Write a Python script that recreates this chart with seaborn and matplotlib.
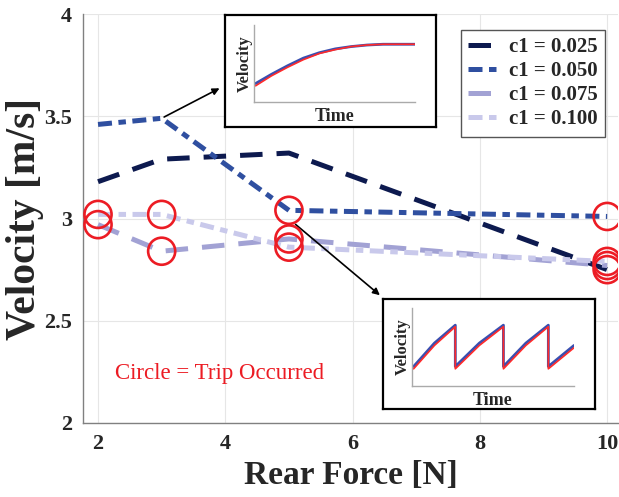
import seaborn as sns
import pandas as pd
import numpy as np
import matplotlib.pyplot as plt
from matplotlib.lines import Line2D

# main data
rear_force = [2, 3, 5, 10]
vel_025 = [3.18, 3.29, 3.32, 2.75]
vel_050 = [3.46, 3.49, 3.04, 3.01]
vel_075 = [2.97, 2.84, 2.90, 2.77]
vel_100 = [3.02, 3.02, 2.86, 2.79]
trip_025 = [0, 0, 0, 1]
trip_050 = [0, 0, 1, 1]
trip_075 = [1, 1, 1, 1]
trip_100 = [1, 1, 1, 1]
labels = ['c1 = 0.025', 'c1 = 0.050', 'c1 = 0.075', 'c1 = 0.100']
colors = ['#0d1a4f', '#2f4fa0', '#a2a2d4', '#c9c9eb']
dash_list = [(4.5, 2.8), (2.8, 1.3, 1.5, 1.3), (4.5, 2.8), (2.8, 1.3, 1.5, 1.3)]

# inset curves (normalised)
rise_t = [0, 1, 2, 3, 4, 5, 6, 7, 8, 9, 10]
rise_blue = [0.24, 0.36, 0.47, 0.57, 0.64, 0.69, 0.72, 0.74, 0.75, 0.75, 0.75]
rise_red = [0.21, 0.34, 0.45, 0.55, 0.63, 0.68, 0.72, 0.74, 0.75, 0.75, 0.75]
saw_t = [0, 0.13, 0.26, 0.26, 0.41, 0.56, 0.56, 0.70, 0.84, 0.84, 1.0]
saw_blue = [0.25, 0.55, 0.78, 0.25, 0.55, 0.78, 0.25, 0.55, 0.78, 0.25, 0.52]
saw_red = [0.22, 0.52, 0.76, 0.22, 0.52, 0.76, 0.22, 0.52, 0.76, 0.22, 0.49]

sns.set_style('white')
plt.rcParams['font.family'] = ['Liberation Serif', 'DejaVu Serif']

vels = [vel_025, vel_050, vel_075, vel_100]
trips = [trip_025, trip_050, trip_075, trip_100]
rows = []
for lab, v, tr in zip(labels, vels, trips):
    for x, y, t in zip(rear_force, v, tr):
        rows.append({'force': x, 'velocity': y, 'c1': lab, 'trip': t})
df = pd.DataFrame(rows)

fig = plt.figure(figsize=(6.19, 4.97), dpi=100)
ax = fig.add_axes([83/619, 74/497, 535/619, 409/497])

sns.lineplot(data=df, x='force', y='velocity', hue='c1', style='c1',
             palette=dict(zip(labels, colors)), dashes=dict(zip(labels, dash_list)),
             lw=3.6, sort=False, legend=False, ax=ax)

tr = df[df.trip == 1]
ax.scatter(tr.force, tr.velocity, s=380, facecolors='none', edgecolors='#ec1c24',
           linewidths=1.9, zorder=5)

ax.set_xlim(1.764, 10.17)
ax.set_ylim(2, 4)
ax.set_xticks([2, 4, 6, 8, 10])
ax.set_yticks([2, 2.5, 3, 3.5, 4])
ax.set_yticklabels(['2', '2.5', '3', '3.5', '4'])
ax.grid(True, color='#e6e6e6', lw=0.8)
for s in ['top', 'right']:
    ax.spines[s].set_visible(False)
for s in ['left', 'bottom']:
    ax.spines[s].set_color('#808080')
    ax.spines[s].set_linewidth(1.0)
ax.tick_params(direction='in', length=4, color='#808080', labelsize=16, pad=8)
for t in ax.get_xticklabels() + ax.get_yticklabels():
    t.set_fontweight('bold')
ax.set_xlabel('Rear Force [N]', fontsize=24, fontweight='bold', labelpad=4)
ax.set_ylabel('Velocity [m/s]', fontsize=30, fontweight='bold', labelpad=0)

handles = [Line2D([0], [0], color=c, lw=3.6, dashes=d) for c, d in zip(colors, dash_list)]
leg = ax.legend(handles, labels, loc='upper right', bbox_to_anchor=(0.976, 0.962),
                borderaxespad=0, prop={'weight': 'bold', 'size': 15}, handlelength=1.6,
                handletextpad=0.35, labelspacing=0.2, fancybox=False, framealpha=1,
                borderpad=0.35)
leg.get_frame().set_edgecolor('#555555')
leg.get_frame().set_linewidth(1.0)

ax.text(2.27, 2.24, 'Circle = Trip Occurred', color='#ec1c24', fontsize=16.5,
        va='center', ha='left')

# arrows to insets
ax.annotate('', xy=(222/619, 1 - 87/497), xycoords='figure fraction',
            xytext=(3, 3.49), textcoords='data',
            arrowprops=dict(arrowstyle='-|>', color='black', lw=1.2, mutation_scale=10))
ax.annotate('', xy=(382/619, 1 - 297/497), xycoords='figure fraction',
            xytext=(5.07, 2.98), textcoords='data',
            arrowprops=dict(arrowstyle='-|>', color='black', lw=1.2, mutation_scale=10))


def inset(box, inner, t, blue, red):
    bx = fig.add_axes(box)
    bx.set_xticks([])
    bx.set_yticks([])
    for s in bx.spines.values():
        s.set_color('black')
        s.set_linewidth(1.6)
    bx.set_facecolor('white')
    ix = fig.add_axes(inner)
    ix.plot(t, blue, color='#3a4fb0', lw=2.0)
    ix.plot(t, red, color='#ff2a2a', lw=1.2)
    ix.set_ylim(0, 1)
    ix.set_xlim(min(t) - 0.01 * (max(t) - min(t)), max(t))
    ix.set_xticks([])
    ix.set_yticks([])
    for s in ['top', 'right']:
        ix.spines[s].set_visible(False)
    for s in ['left', 'bottom']:
        ix.spines[s].set_color('#aaaaaa')
        ix.spines[s].set_linewidth(1.0)
    ix.set_ylabel('Velocity', fontsize=12, fontweight='bold', labelpad=1)
    ix.set_xlabel('Time', fontsize=13, fontweight='bold', labelpad=4)


inset([225/619, 1 - 127/497, 211/619, 112/497],
      [254/619, 1 - 102/497, 161/619, 77/497], rise_t, rise_blue, rise_red)
inset([383/619, 1 - 409/497, 212/619, 110/497],
      [412/619, 1 - 386/497, 162/619, 78/497], saw_t, saw_blue, saw_red)

fig.savefig('out.png', dpi=100)
